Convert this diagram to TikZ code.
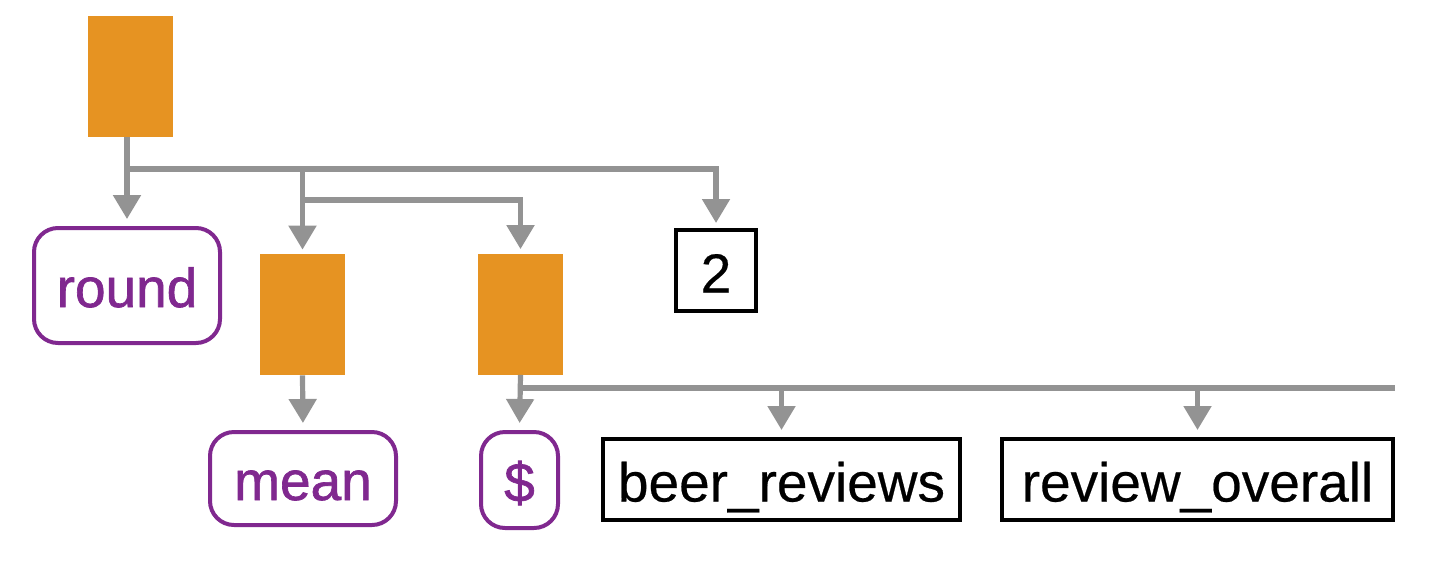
\documentclass[tikz,border=0pt]{standalone}
\usepackage{fontspec}
\setmainfont[FakeBold=0.4]{Liberation Sans}
\newfontfamily\funcfont[FakeBold=1.2]{Liberation Sans}
\usetikzlibrary{arrows.meta}
\definecolor{callorange}{HTML}{E69322}
\definecolor{funcpurple}{HTML}{80288F}
\definecolor{wiregray}{HTML}{939393}
\begin{document}
\begin{tikzpicture}[x=0.5pt,y=-0.5pt,
		font=\fontsize{27.5}{32}\selectfont,
		call/.style={fill=callorange, minimum width=42.5pt, minimum height=60.5pt, inner sep=0pt},
		func/.style={draw=funcpurple, text=funcpurple, line width=2pt, rounded corners=12pt, inner sep=0pt,
			text height=21.5pt, text depth=0pt, font=\fontsize{27.5}{32}\funcfont},
		leaf/.style={draw=black, line width=2pt, inner sep=0pt, minimum height=40.5pt, text height=22pt, text depth=0pt},
		wire/.style={draw=wiregray, line width=2.6pt},
		tip/.style={wire, -{Triangle[width=13.5pt,length=12pt]}, shorten >=#1},
		tip/.default=3.5pt]
		\useasboundingbox (0,0) rectangle (1444,574);

		% Draw the call boxes
		\node[call] (top) at (130.5,76.5) {};
		\node[call] (meancall) at (302.5,314.5) {};
		\node[call] (dollarcall) at (520.5,314) {};

		% Draw the functions and the values
		\node[func, minimum width=93pt, minimum height=57.5pt] (round) at (127,285.5) {round};
		\node[func, minimum width=93pt, minimum height=46.5pt] (mean) at (303,478.5) {mean};
		\node[func, minimum width=38.5pt, minimum height=48pt] (dollar) at (519.5,480) {\$};
		\node[leaf, minimum width=40pt] (two) at (716,270.5) {2};
		\node[leaf, minimum width=178.5pt] (beer) at (781.5,479.5) {beer\_reviews};
		\node[leaf, minimum width=195.5pt] (review) at (1197.5,479.5) {review\_overall};

		% Bus lines
		\coordinate (busa) at (127,169);
		\coordinate (busb) at (303,200);
		\coordinate (busc) at (520,388);
		\coordinate (buscend) at (review.east |- busc);

		% Draw the connectors
		\draw[tip] (round.north |- top.south) -- (round.north);
		\draw[tip] (busa) -| ([yshift=-1pt]two.north);
		\draw[tip=2pt] (busa -| meancall.north) -- (meancall.north);
		\draw[tip=2pt] (busb) -| (dollarcall.north);
		\draw[tip] (meancall.south) -- (mean.north);
		\draw[tip] (dollarcall.south) -- (dollar.north);
		\draw[wire] (busc) -- (buscend);
		\draw[tip] (busc -| beer.north) -- (beer.north);
		\draw[tip] (busc -| review.north) -- (review.north);
	\end{tikzpicture}
\end{document}
